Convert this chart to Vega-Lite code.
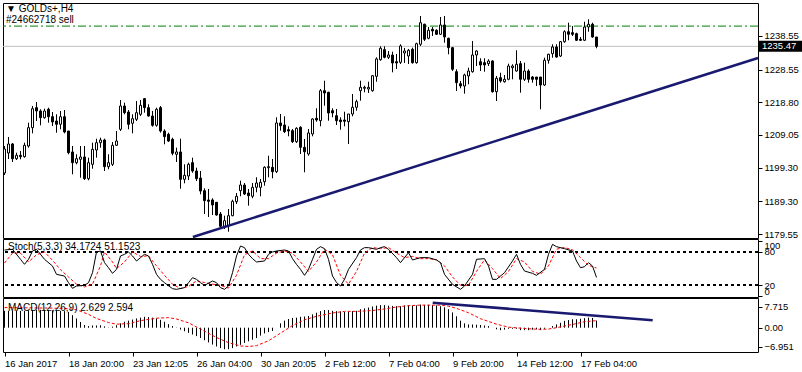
{
"$schema": "https://vega.github.io/schema/vega-lite/v6.json",
"background": "white",
"padding": {"left": 2, "top": 2, "right": 0, "bottom": 0},
"autosize": {"type": "pad"},
"bounds": "flush",
"spacing": 1,
"config": {
  "view": {"stroke": "black", "strokeWidth": 1},
  "font": "Liberation Sans",
  "scale": {"continuousPadding": 0},
  "text": {"font": "Liberation Sans", "fontSize": 10, "color": "black", "align": "left", "baseline": "middle"},
  "axis": {"labelFont": "Liberation Sans", "labelFontSize": 9.5, "labelColor": "black", "tickColor": "black", "tickSize": 4, "grid": false, "domain": false, "labelPadding": 2, "labelOverlap": false}
},
"datasets": {
  "candles": [
{"i":0,"o":1197.73,"h":1205.77,"l":1197.13,"c":1204.88},
{"i":1,"o":1203.69,"h":1208.46,"l":1201.90,"c":1206.37},
{"i":2,"o":1206.37,"h":1206.67,"l":1201.01,"c":1201.99},
{"i":3,"o":1201.99,"h":1203.78,"l":1201.60,"c":1203.00},
{"i":4,"o":1203.00,"h":1204.28,"l":1201.81,"c":1202.59},
{"i":5,"o":1202.59,"h":1206.76,"l":1202.29,"c":1205.98},
{"i":6,"o":1205.77,"h":1212.72,"l":1205.27,"c":1211.23},
{"i":7,"o":1211.23,"h":1217.69,"l":1209.56,"c":1216.89},
{"i":8,"o":1217.19,"h":1218.89,"l":1213.22,"c":1216.20},
{"i":9,"o":1216.20,"h":1216.71,"l":1211.94,"c":1214.21},
{"i":10,"o":1214.21,"h":1216.89,"l":1213.91,"c":1216.20},
{"i":11,"o":1216.71,"h":1217.19,"l":1212.72,"c":1214.50},
{"i":12,"o":1214.50,"h":1215.90,"l":1211.73,"c":1212.93},
{"i":13,"o":1213.22,"h":1215.22,"l":1209.74,"c":1212.24},
{"i":14,"o":1212.24,"h":1216.20,"l":1210.75,"c":1214.50},
{"i":15,"o":1214.50,"h":1216.50,"l":1209.56,"c":1209.95},
{"i":16,"o":1210.24,"h":1210.24,"l":1203.30,"c":1203.78},
{"i":17,"o":1203.99,"h":1205.77,"l":1197.34,"c":1200.80},
{"i":18,"o":1200.80,"h":1203.30,"l":1200.32,"c":1201.99},
{"i":19,"o":1201.81,"h":1205.77,"l":1196.33,"c":1202.50},
{"i":20,"o":1202.50,"h":1205.77,"l":1195.64,"c":1196.03},
{"i":21,"o":1196.03,"h":1202.29,"l":1195.55,"c":1200.80},
{"i":22,"o":1200.32,"h":1206.76,"l":1199.01,"c":1204.79},
{"i":23,"o":1204.58,"h":1207.95,"l":1202.29,"c":1206.76},
{"i":24,"o":1206.76,"h":1208.25,"l":1205.27,"c":1207.56},
{"i":25,"o":1207.56,"h":1207.95,"l":1198.33,"c":1199.61},
{"i":26,"o":1199.61,"h":1203.30,"l":1198.83,"c":1200.80},
{"i":27,"o":1200.32,"h":1206.97,"l":1199.81,"c":1205.98},
{"i":28,"o":1205.98,"h":1210.24,"l":1205.77,"c":1207.26},
{"i":29,"o":1210.75,"h":1219.48,"l":1210.24,"c":1217.69},
{"i":30,"o":1217.69,"h":1218.68,"l":1215.22,"c":1215.70},
{"i":31,"o":1215.90,"h":1216.50,"l":1210.75,"c":1212.24},
{"i":32,"o":1212.54,"h":1215.22,"l":1209.56,"c":1213.91},
{"i":33,"o":1213.73,"h":1219.18,"l":1213.22,"c":1215.70},
{"i":34,"o":1215.22,"h":1219.48,"l":1214.71,"c":1217.90},
{"i":35,"o":1219.87,"h":1220.08,"l":1215.70,"c":1217.19},
{"i":36,"o":1217.19,"h":1218.20,"l":1214.50,"c":1214.71},
{"i":37,"o":1214.71,"h":1216.20,"l":1211.53,"c":1211.94},
{"i":38,"o":1211.94,"h":1217.19,"l":1211.53,"c":1216.71},
{"i":39,"o":1217.19,"h":1217.69,"l":1209.74,"c":1210.24},
{"i":40,"o":1210.24,"h":1210.75,"l":1206.28,"c":1208.55},
{"i":41,"o":1209.26,"h":1209.74,"l":1206.97,"c":1207.26},
{"i":42,"o":1207.77,"h":1208.25,"l":1203.00,"c":1203.60},
{"i":43,"o":1203.30,"h":1205.27,"l":1201.01,"c":1203.99},
{"i":44,"o":1203.99,"h":1207.95,"l":1193.05,"c":1195.85},
{"i":45,"o":1195.85,"h":1200.32,"l":1194.66,"c":1197.04},
{"i":46,"o":1196.83,"h":1200.80,"l":1195.64,"c":1200.32},
{"i":47,"o":1200.80,"h":1202.29,"l":1197.82,"c":1198.33},
{"i":48,"o":1198.33,"h":1199.31,"l":1195.34,"c":1196.03},
{"i":49,"o":1196.24,"h":1198.33,"l":1191.38,"c":1192.36},
{"i":50,"o":1192.45,"h":1193.17,"l":1185.51,"c":1189.48},
{"i":51,"o":1189.69,"h":1192.96,"l":1184.62,"c":1189.30},
{"i":52,"o":1189.69,"h":1190.19,"l":1185.21,"c":1188.19},
{"i":53,"o":1189.00,"h":1189.00,"l":1185.01,"c":1185.21},
{"i":54,"o":1185.51,"h":1186.11,"l":1181.25,"c":1181.85},
{"i":55,"o":1181.85,"h":1185.01,"l":1181.04,"c":1183.52},
{"i":56,"o":1182.03,"h":1187.00,"l":1180.24,"c":1185.01},
{"i":57,"o":1185.01,"h":1189.77,"l":1184.83,"c":1189.30},
{"i":58,"o":1189.18,"h":1191.77,"l":1188.49,"c":1190.79},
{"i":59,"o":1192.45,"h":1195.44,"l":1190.79,"c":1194.15},
{"i":60,"o":1194.15,"h":1194.75,"l":1191.17,"c":1191.47},
{"i":61,"o":1191.77,"h":1192.96,"l":1187.99,"c":1190.97},
{"i":62,"o":1190.79,"h":1194.75,"l":1190.19,"c":1193.47},
{"i":63,"o":1193.47,"h":1196.45,"l":1191.98,"c":1194.75},
{"i":64,"o":1193.47,"h":1195.94,"l":1190.79,"c":1194.96},
{"i":65,"o":1195.14,"h":1199.73,"l":1193.94,"c":1199.43},
{"i":66,"o":1199.31,"h":1202.88,"l":1196.45,"c":1199.61},
{"i":67,"o":1199.43,"h":1201.90,"l":1196.15,"c":1198.12},
{"i":68,"o":1198.12,"h":1214.33,"l":1197.73,"c":1212.63},
{"i":69,"o":1212.63,"h":1215.31,"l":1210.33,"c":1211.82},
{"i":70,"o":1212.03,"h":1214.62,"l":1209.65,"c":1210.04},
{"i":71,"o":1210.63,"h":1211.64,"l":1208.66,"c":1210.24},
{"i":72,"o":1210.33,"h":1210.84,"l":1206.67,"c":1207.06},
{"i":73,"o":1207.06,"h":1211.35,"l":1206.67,"c":1211.05},
{"i":74,"o":1211.35,"h":1211.64,"l":1203.39,"c":1205.39},
{"i":75,"o":1205.39,"h":1207.86,"l":1197.94,"c":1204.07},
{"i":76,"o":1203.39,"h":1210.84,"l":1202.88,"c":1209.65},
{"i":77,"o":1209.36,"h":1214.03,"l":1208.66,"c":1213.82},
{"i":78,"o":1214.03,"h":1217.01,"l":1213.01,"c":1213.52},
{"i":79,"o":1213.31,"h":1222.76,"l":1211.64,"c":1222.25},
{"i":80,"o":1222.25,"h":1225.23,"l":1217.78,"c":1221.57},
{"i":81,"o":1221.77,"h":1221.95,"l":1213.31,"c":1215.61},
{"i":82,"o":1216.29,"h":1217.01,"l":1214.33,"c":1215.61},
{"i":83,"o":1214.80,"h":1216.80,"l":1212.03,"c":1213.31},
{"i":84,"o":1213.52,"h":1214.33,"l":1210.63,"c":1213.01},
{"i":85,"o":1213.52,"h":1215.99,"l":1211.64,"c":1213.13},
{"i":86,"o":1213.01,"h":1215.31,"l":1206.37,"c":1215.31},
{"i":87,"o":1215.31,"h":1221.27,"l":1214.62,"c":1217.31},
{"i":88,"o":1217.31,"h":1219.57,"l":1216.29,"c":1218.98},
{"i":89,"o":1222.25,"h":1225.23,"l":1219.27,"c":1223.26},
{"i":90,"o":1222.97,"h":1223.74,"l":1221.77,"c":1223.26},
{"i":91,"o":1222.76,"h":1224.93,"l":1221.57,"c":1223.26},
{"i":92,"o":1222.25,"h":1226.93,"l":1221.95,"c":1226.72},
{"i":93,"o":1226.54,"h":1232.20,"l":1224.93,"c":1231.70},
{"i":94,"o":1231.49,"h":1235.48,"l":1231.19,"c":1234.89},
{"i":95,"o":1234.47,"h":1235.48,"l":1231.91,"c":1232.20},
{"i":96,"o":1232.20,"h":1234.08,"l":1231.70,"c":1232.89},
{"i":97,"o":1232.89,"h":1233.87,"l":1227.73,"c":1230.51},
{"i":98,"o":1230.89,"h":1233.19,"l":1228.72,"c":1230.51},
{"i":99,"o":1230.71,"h":1236.08,"l":1230.21,"c":1235.57},
{"i":100,"o":1233.49,"h":1234.98,"l":1230.51,"c":1234.08},
{"i":101,"o":1232.59,"h":1234.68,"l":1230.21,"c":1234.29},
{"i":102,"o":1234.59,"h":1235.07,"l":1230.30,"c":1230.60},
{"i":103,"o":1230.60,"h":1236.55,"l":1230.30,"c":1236.26},
{"i":104,"o":1236.08,"h":1244.51,"l":1235.57,"c":1242.51},
{"i":105,"o":1242.04,"h":1242.22,"l":1237.06,"c":1237.57},
{"i":106,"o":1237.87,"h":1241.23,"l":1237.57,"c":1240.25},
{"i":107,"o":1240.55,"h":1241.23,"l":1238.55,"c":1240.04},
{"i":108,"o":1240.25,"h":1240.55,"l":1238.85,"c":1239.06},
{"i":109,"o":1239.06,"h":1244.21,"l":1238.85,"c":1241.83},
{"i":110,"o":1241.83,"h":1244.51,"l":1236.55,"c":1238.25},
{"i":111,"o":1237.87,"h":1238.04,"l":1233.10,"c":1235.07},
{"i":112,"o":1235.07,"h":1235.27,"l":1228.12,"c":1228.63},
{"i":113,"o":1227.91,"h":1228.63,"l":1222.16,"c":1224.64},
{"i":114,"o":1224.34,"h":1225.14,"l":1222.97,"c":1223.65},
{"i":115,"o":1223.65,"h":1227.32,"l":1221.36,"c":1226.93},
{"i":116,"o":1226.63,"h":1229.11,"l":1224.16,"c":1228.12},
{"i":117,"o":1227.91,"h":1237.06,"l":1227.62,"c":1232.89},
{"i":118,"o":1232.89,"h":1234.29,"l":1229.61,"c":1234.08},
{"i":119,"o":1230.89,"h":1231.91,"l":1228.12,"c":1229.91},
{"i":120,"o":1230.60,"h":1231.91,"l":1227.91,"c":1229.91},
{"i":121,"o":1230.30,"h":1231.61,"l":1229.61,"c":1231.10},
{"i":122,"o":1231.10,"h":1231.31,"l":1221.66,"c":1221.95},
{"i":123,"o":1221.95,"h":1226.63,"l":1219.18,"c":1225.95},
{"i":124,"o":1226.13,"h":1227.62,"l":1224.64,"c":1225.14},
{"i":125,"o":1224.93,"h":1226.93,"l":1224.64,"c":1225.65},
{"i":126,"o":1225.65,"h":1230.30,"l":1225.35,"c":1229.61},
{"i":127,"o":1229.11,"h":1230.12,"l":1225.65,"c":1229.61},
{"i":128,"o":1228.12,"h":1234.29,"l":1227.91,"c":1230.12},
{"i":129,"o":1230.30,"h":1231.10,"l":1221.66,"c":1225.65},
{"i":130,"o":1225.65,"h":1230.60,"l":1225.14,"c":1228.12},
{"i":131,"o":1228.12,"h":1228.63,"l":1224.64,"c":1225.65},
{"i":132,"o":1226.33,"h":1226.63,"l":1224.64,"c":1225.65},
{"i":133,"o":1226.33,"h":1226.33,"l":1223.65,"c":1225.65},
{"i":134,"o":1226.33,"h":1226.33,"l":1216.71,"c":1223.95},
{"i":135,"o":1223.95,"h":1232.09,"l":1223.65,"c":1231.31},
{"i":136,"o":1231.31,"h":1233.28,"l":1230.30,"c":1233.10},
{"i":137,"o":1233.28,"h":1236.08,"l":1232.09,"c":1235.27},
{"i":138,"o":1235.27,"h":1236.08,"l":1232.09,"c":1232.29},
{"i":139,"o":1232.59,"h":1237.06,"l":1232.29,"c":1236.85},
{"i":140,"o":1236.85,"h":1240.25,"l":1236.55,"c":1239.83},
{"i":141,"o":1239.83,"h":1242.51,"l":1237.27,"c":1239.06},
{"i":142,"o":1239.53,"h":1241.53,"l":1238.55,"c":1239.06},
{"i":143,"o":1239.24,"h":1239.53,"l":1237.06,"c":1237.27},
{"i":144,"o":1237.57,"h":1238.25,"l":1237.06,"c":1237.27},
{"i":145,"o":1237.27,"h":1242.81,"l":1237.06,"c":1241.23},
{"i":146,"o":1241.23,"h":1243.53,"l":1239.83,"c":1242.04},
{"i":147,"o":1242.04,"h":1242.51,"l":1238.04,"c":1238.25},
{"i":148,"o":1238.25,"h":1238.25,"l":1234.89,"c":1235.47}
  ],
  "levels": [{"name": "order", "p": 1241.5}, {"name": "bid", "p": 1235.47}],
  "trend": [{"i": 47.1, "p": 1178.66}, {"i": 188.375, "p": 1232.0}],
  "labels": [
    {"panel": "main", "text": "▼ GOLDs+,H4", "i": -0.375, "y": 1246.5},
    {"panel": "main", "text": "  #24662718 sell", "i": -0.375, "y": 1243.4},
    {"panel": "stoch", "text": "Stoch(5,3,3) 34.1724 51.1523", "i": -0.375, "y": 89},
    {"panel": "macd", "text": "MACD(12,26,9) 2.629 2.594", "i": -0.375, "y": 7.2}
  ],
  "stochK": [
{"i":0,"v":83.6},{"i":2,"v":84.8},{"i":4,"v":66.8},{"i":5,"v":57.8},{"i":6,"v":66.8},{"i":7,"v":81.8},{"i":8,"v":84.8},{"i":10,"v":66.8},{"i":12,"v":54.7},{"i":13,"v":39.7},{"i":15,"v":36.7},{"i":16,"v":24.7},{"i":17,"v":14.5},{"i":18,"v":18.7},{"i":20,"v":19.9},{"i":21,"v":24.7},{"i":22,"v":42.7},{"i":23,"v":80},{"i":24,"v":81.8},{"i":25,"v":60.8},{"i":26,"v":51.7},{"i":27,"v":41.5},{"i":28,"v":48.7},{"i":29,"v":72.8},{"i":30,"v":75.8},{"i":31,"v":80},{"i":32,"v":72.8},{"i":33,"v":63.8},{"i":34,"v":69.8},{"i":35,"v":75.8},{"i":36,"v":72.8},{"i":37,"v":57.8},{"i":38,"v":39.7},{"i":39,"v":30.7},{"i":40,"v":24.7},{"i":42,"v":13.9},{"i":43,"v":12.7},{"i":45,"v":15.7},{"i":46,"v":24.7},{"i":47,"v":33.7},{"i":48,"v":30.7},{"i":49,"v":24.7},{"i":50,"v":19.9},{"i":52,"v":27.7},{"i":53,"v":24.7},{"i":54,"v":15.7},{"i":55,"v":12.7},{"i":56,"v":18.7},{"i":57,"v":42.7},{"i":58,"v":72.8},{"i":59,"v":90.8},{"i":60,"v":87.8},{"i":61,"v":75.8},{"i":62,"v":68},{"i":63,"v":62},{"i":65,"v":63.8},{"i":66,"v":75.8},{"i":67,"v":80},{"i":68,"v":81.8},{"i":70,"v":83.6},{"i":71,"v":81.8},{"i":72,"v":68},{"i":73,"v":57.7},{"i":74,"v":48.7},{"i":75,"v":37.9},{"i":76,"v":48.7},{"i":77,"v":66.8},{"i":78,"v":84.8},{"i":79,"v":89.6},{"i":80,"v":86},{"i":81,"v":66.8},{"i":82,"v":36.7},{"i":83,"v":25},{"i":84,"v":18.7},{"i":85,"v":30.7},{"i":86,"v":48.7},{"i":88,"v":69.8},{"i":89,"v":83.6},{"i":90,"v":87.8},{"i":91,"v":87.8},{"i":93,"v":84.8},{"i":94,"v":87.8},{"i":95,"v":89.6},{"i":96,"v":84.8},{"i":98,"v":69.8},{"i":99,"v":60.8},{"i":101,"v":78.8},{"i":102,"v":65.6},{"i":104,"v":69.8},{"i":106,"v":69.8},{"i":108,"v":65.6},{"i":109,"v":60.8},{"i":110,"v":39.7},{"i":112,"v":21.7},{"i":114,"v":12.7},{"i":115,"v":18.7},{"i":117,"v":39.7},{"i":118,"v":66.8},{"i":120,"v":68},{"i":121,"v":54.7},{"i":122,"v":30.7},{"i":123,"v":30.7},{"i":125,"v":42.7},{"i":127,"v":63.8},{"i":128,"v":75.8},{"i":129,"v":57.7},{"i":130,"v":45.7},{"i":132,"v":41.5},{"i":133,"v":37.9},{"i":135,"v":48.7},{"i":136,"v":75.8},{"i":137,"v":93.8},{"i":138,"v":89.6},{"i":140,"v":86},{"i":142,"v":81.8},{"i":143,"v":63.8},{"i":144,"v":51.7},{"i":145,"v":53.5},{"i":146,"v":60.8},{"i":147,"v":54.7},{"i":148,"v":34.17}
  ],
  "stochD": [
{"i":0,"v":60},{"i":2,"v":78},{"i":4,"v":78},{"i":6,"v":62},{"i":8,"v":75},{"i":10,"v":80},{"i":12,"v":65},{"i":14,"v":48},{"i":16,"v":35},{"i":18,"v":22},{"i":20,"v":17},{"i":22,"v":22},{"i":24,"v":55},{"i":25,"v":80},{"i":27,"v":62},{"i":28,"v":50},{"i":30,"v":62},{"i":32,"v":80},{"i":34,"v":72},{"i":36,"v":73},{"i":38,"v":55},{"i":40,"v":38},{"i":42,"v":22},{"i":44,"v":14},{"i":46,"v":18},{"i":48,"v":28},{"i":50,"v":25},{"i":52,"v":22},{"i":54,"v":20},{"i":56,"v":15},{"i":58,"v":38},{"i":60,"v":75},{"i":62,"v":82},{"i":64,"v":68},{"i":66,"v":68},{"i":68,"v":78},{"i":70,"v":82},{"i":72,"v":78},{"i":74,"v":62},{"i":76,"v":45},{"i":78,"v":62},{"i":80,"v":85},{"i":82,"v":75},{"i":84,"v":38},{"i":86,"v":22},{"i":88,"v":45},{"i":90,"v":78},{"i":92,"v":88},{"i":94,"v":86},{"i":96,"v":88},{"i":98,"v":78},{"i":100,"v":70},{"i":102,"v":72},{"i":104,"v":68},{"i":106,"v":68},{"i":108,"v":66},{"i":110,"v":55},{"i":112,"v":35},{"i":114,"v":20},{"i":116,"v":20},{"i":118,"v":45},{"i":120,"v":66},{"i":122,"v":50},{"i":124,"v":32},{"i":126,"v":45},{"i":128,"v":68},{"i":130,"v":62},{"i":132,"v":45},{"i":134,"v":40},{"i":136,"v":55},{"i":138,"v":85},{"i":140,"v":88},{"i":142,"v":84},{"i":144,"v":70},{"i":146,"v":56},{"i":148,"v":51.15}
  ],
  "macd": [
{"i":0,"m":6.2},{"i":1,"m":6.2},{"i":2,"m":6.3},{"i":3,"m":6.3},{"i":4,"m":6.2},{"i":5,"m":6.2},{"i":6,"m":6.3},{"i":7,"m":6.5},{"i":8,"m":6.6},{"i":9,"m":6.6},{"i":10,"m":6.6},{"i":11,"m":6.5},{"i":12,"m":6.4},{"i":13,"m":6.3},{"i":14,"m":6.2},{"i":15,"m":6.1},{"i":16,"m":5.8},{"i":17,"m":4.6},{"i":18,"m":3.4},{"i":19,"m":2.1},{"i":20,"m":1.0},{"i":21,"m":0.6},{"i":22,"m":0.8},{"i":23,"m":0.8},{"i":24,"m":0.9},{"i":25,"m":0.5},{"i":26,"m":0.1},{"i":27,"m":0.4},{"i":28,"m":0.9},{"i":29,"m":1.6},{"i":30,"m":2.2},{"i":31,"m":2.6},{"i":32,"m":3.0},{"i":33,"m":3.4},{"i":34,"m":3.7},{"i":35,"m":4.0},{"i":36,"m":3.9},{"i":37,"m":3.7},{"i":38,"m":3.4},{"i":39,"m":2.9},{"i":40,"m":2.2},{"i":41,"m":1.3},{"i":42,"m":0.6},{"i":43,"m":-0.1},{"i":44,"m":-0.7},{"i":45,"m":-1.3},{"i":46,"m":-1.9},{"i":47,"m":-2.5},{"i":48,"m":-3.1},{"i":49,"m":-3.8},{"i":50,"m":-4.6},{"i":51,"m":-5.4},{"i":52,"m":-6.2},{"i":53,"m":-6.9},{"i":54,"m":-7.5},{"i":55,"m":-7.9},{"i":56,"m":-7.9},{"i":57,"m":-7.5},{"i":58,"m":-6.9},{"i":59,"m":-6.3},{"i":60,"m":-5.6},{"i":61,"m":-5.0},{"i":62,"m":-4.4},{"i":63,"m":-3.8},{"i":64,"m":-2.9},{"i":65,"m":-2.1},{"i":66,"m":-1.6},{"i":67,"m":-1.2},{"i":68,"m":0.0},{"i":69,"m":1.6},{"i":70,"m":2.6},{"i":71,"m":3.2},{"i":72,"m":3.6},{"i":73,"m":3.7},{"i":74,"m":4.0},{"i":75,"m":4.1},{"i":76,"m":4.3},{"i":77,"m":4.9},{"i":78,"m":5.5},{"i":79,"m":6.1},{"i":80,"m":6.5},{"i":81,"m":6.5},{"i":82,"m":6.2},{"i":83,"m":6.1},{"i":84,"m":6.0},{"i":85,"m":5.8},{"i":86,"m":5.8},{"i":87,"m":6.1},{"i":88,"m":6.2},{"i":89,"m":6.8},{"i":90,"m":7.1},{"i":91,"m":7.4},{"i":92,"m":7.8},{"i":93,"m":8.1},{"i":94,"m":8.3},{"i":95,"m":8.3},{"i":96,"m":8.1},{"i":97,"m":8.0},{"i":98,"m":7.9},{"i":99,"m":7.9},{"i":100,"m":8.2},{"i":101,"m":8.2},{"i":102,"m":8.1},{"i":103,"m":8.2},{"i":104,"m":8.5},{"i":105,"m":8.4},{"i":106,"m":8.4},{"i":107,"m":8.3},{"i":108,"m":8.2},{"i":109,"m":7.9},{"i":110,"m":7.5},{"i":111,"m":6.8},{"i":112,"m":5.6},{"i":113,"m":4.2},{"i":114,"m":2.6},{"i":115,"m":1.6},{"i":116,"m":1.2},{"i":117,"m":1.2},{"i":118,"m":1.1},{"i":119,"m":1.0},{"i":120,"m":0.8},{"i":121,"m":0.6},{"i":122,"m":0.0},{"i":123,"m":-0.6},{"i":124,"m":-0.9},{"i":125,"m":-0.7},{"i":126,"m":-0.4},{"i":127,"m":-0.4},{"i":128,"m":-0.4},{"i":129,"m":-0.9},{"i":130,"m":-0.9},{"i":131,"m":-0.9},{"i":132,"m":-0.7},{"i":133,"m":-0.6},{"i":134,"m":-0.9},{"i":135,"m":-0.4},{"i":136,"m":0.0},{"i":137,"m":0.6},{"i":138,"m":1.2},{"i":139,"m":1.8},{"i":140,"m":2.5},{"i":141,"m":2.8},{"i":142,"m":3.1},{"i":143,"m":3.1},{"i":144,"m":3.3},{"i":145,"m":3.5},{"i":146,"m":3.7},{"i":147,"m":3.6},{"i":148,"m":2.63}
  ],
  "signal": [
{"i":0,"s":7.4},{"i":6,"s":7.3},{"i":12,"s":7.2},{"i":16,"s":7.0},{"i":18,"s":6.6},{"i":21,"s":4.9},{"i":23,"s":3.4},{"i":26,"s":1.9},{"i":28,"s":1.3},{"i":31,"s":1.5},{"i":34,"s":2.6},{"i":38,"s":3.5},{"i":41,"s":3.7},{"i":43,"s":3.2},{"i":46,"s":1.8},{"i":49,"s":-0.5},{"i":53,"s":-3.6},{"i":56,"s":-5.5},{"i":59,"s":-6.7},{"i":61,"s":-6.9},{"i":63,"s":-6.6},{"i":66,"s":-4.8},{"i":69,"s":-2.0},{"i":72,"s":0.8},{"i":75,"s":2.9},{"i":78,"s":4.2},{"i":82,"s":5.4},{"i":85,"s":6.0},{"i":88,"s":6.0},{"i":92,"s":6.3},{"i":95,"s":6.9},{"i":98,"s":7.6},{"i":101,"s":8.1},{"i":104,"s":8.3},{"i":109,"s":8.3},{"i":111,"s":7.9},{"i":113,"s":7.1},{"i":116,"s":5.5},{"i":119,"s":3.3},{"i":123,"s":1.3},{"i":126,"s":0.2},{"i":131,"s":-0.4},{"i":134,"s":-0.6},{"i":136,"s":-0.5},{"i":138,"s":0.0},{"i":142,"s":1.2},{"i":145,"s":2.2},{"i":148,"s":2.594}
  ],
  "macdTrend": [{"i": 107.05, "m": 9.2}, {"i": 162.05, "m": 2.72}]
},
"vconcat": [
  {
    "width": 755, "height": 235,
    "layer": [
      {"data": {"name": "levels"}, "transform": [{"filter": "datum.name == 'order'"}], "mark": {"type": "rule", "color": "#008000", "strokeWidth": 1, "strokeDash": [8, 3, 2, 3]},
       "encoding": {"y": {"field": "p", "type": "quantitative", "scale": {"domain": [1178.36, 1248.38], "zero": false, "nice": false, "padding": 0}}}},
      {"data": {"name": "levels"}, "transform": [{"filter": "datum.name == 'bid'"}], "mark": {"type": "rule", "color": "#c0c0c0", "strokeWidth": 1},
       "encoding": {"y": {"field": "p", "type": "quantitative"}}},
      {"data": {"name": "candles"}, "mark": {"type": "rule", "color": "black", "strokeWidth": 1},
       "encoding": {
         "x": {"field": "i", "type": "quantitative", "scale": {"domain": [-0.375, 188.375], "nice": false, "zero": false, "padding": 0}, "axis": null},
         "y": {"field": "l", "type": "quantitative", "scale": {"domain": [1178.36, 1248.38], "zero": false, "nice": false, "padding": 0},
               "axis": {"orient": "right", "title": null, "values": [1179.55, 1189.30, 1199.30, 1209.05, 1218.80, 1228.55, 1238.55], "tickCount": 20, "format": ".2f", "labelOverlap": false, "labelBound": false}},
         "y2": {"field": "h"}}},
      {"data": {"name": "candles"}, "mark": {"type": "bar", "size": 2, "stroke": "black", "strokeWidth": 1},
       "encoding": {
         "x": {"field": "i", "type": "quantitative"},
         "y": {"field": "o", "type": "quantitative"},
         "y2": {"field": "c"},
         "fill": {"condition": {"test": "datum.c < datum.o", "value": "black"}, "value": "white"}}},
      {"data": {"name": "trend"}, "mark": {"type": "line", "color": "#191970", "strokeWidth": 2.5},
       "encoding": {"x": {"field": "i", "type": "quantitative"}, "y": {"field": "p", "type": "quantitative"}}},
      {"data": {"name": "levels"}, "transform": [{"filter": "datum.name == 'bid'"}], "mark": {"type": "bar", "orient": "horizontal", "size": 11, "color": "black", "clip": false},
       "encoding": {"x": {"datum": 188.5}, "x2": {"datum": 199.5}, "y": {"field": "p", "type": "quantitative"}}},
      {"data": {"name": "levels"}, "transform": [{"filter": "datum.name == 'bid'"}], "mark": {"type": "text", "color": "white", "align": "left", "baseline": "middle", "fontSize": 9.5, "dx": 4, "clip": false},
       "encoding": {"x": {"datum": 188.375}, "y": {"field": "p", "type": "quantitative"}, "text": {"field": "p", "type": "quantitative", "format": ".2f"}}},
      {"data": {"name": "labels"}, "transform": [{"filter": "datum.panel == 'main'"}], "mark": {"type": "text", "dx": 3},
       "encoding": {"x": {"field": "i", "type": "quantitative"}, "y": {"field": "y", "type": "quantitative"}, "text": {"field": "text"}}}
    ]
  },
  {
    "width": 755, "height": 58,
    "layer": [
      {"data": {"name": "stochK"}, "mark": {"type": "rule", "color": "black", "strokeDash": [3, 3], "strokeWidth": 1},
       "encoding": {"y": {"datum": 80, "type": "quantitative", "scale": {"domain": [-1.1, 103.4], "nice": false, "zero": false, "padding": 0},
         "axis": {"orient": "right", "title": null, "values": [0, 20, 80, 100], "tickCount": 20, "format": "d", "labelOverlap": false, "labelBound": false,
           "labelBaseline": {"condition": [{"test": "datum.value == 100", "value": "top"}, {"test": "datum.value == 0", "value": "bottom"}], "value": "middle"}}}}},
      {"data": {"name": "stochK"}, "mark": {"type": "rule", "color": "black", "strokeDash": [3, 3], "strokeWidth": 1},
       "encoding": {"y": {"datum": 20, "type": "quantitative"}}},
      {"data": {"name": "stochD"}, "mark": {"type": "line", "color": "#ff0000", "strokeWidth": 1, "strokeDash": [3, 2]},
       "encoding": {"x": {"field": "i", "type": "quantitative", "scale": {"domain": [-0.375, 188.375], "nice": false, "zero": false, "padding": 0}, "axis": null},
                    "y": {"field": "v", "type": "quantitative"}}},
      {"data": {"name": "stochK"}, "mark": {"type": "line", "color": "black", "strokeWidth": 1},
       "encoding": {"x": {"field": "i", "type": "quantitative"}, "y": {"field": "v", "type": "quantitative"}}},
      {"data": {"name": "labels"}, "transform": [{"filter": "datum.panel == 'stoch'"}], "mark": {"type": "text", "dx": 5},
       "encoding": {"x": {"field": "i", "type": "quantitative"}, "y": {"field": "y", "type": "quantitative"}, "text": {"field": "text"}}}
    ]
  },
  {
    "width": 755, "height": 54,
    "layer": [
      {"data": {"name": "macd"}, "mark": {"type": "rule", "color": "black", "strokeWidth": 1},
       "encoding": {
         "x": {"field": "i", "type": "quantitative", "scale": {"domain": [-0.375, 188.375], "nice": false, "zero": false, "padding": 0},
               "axis": {"orient": "bottom", "title": null, "values": [0, 16, 32, 48, 64, 80, 96, 112, 128, 144], "tickCount": 30,
                 "labelExpr": "['16 Jan 2017','18 Jan 20:00','23 Jan 12:05','26 Jan 04:00','30 Jan 20:05','2 Feb 12:00','7 Feb 04:00','9 Feb 20:00','14 Feb 12:00','17 Feb 04:00'][round(datum.value/16)]",
                 "labelAlign": "left", "labelOverlap": false, "labelBound": false, "labelFlush": false, "tickSize": 4, "labelPadding": 2}},
         "y": {"field": "m", "type": "quantitative", "scale": {"domain": [-8.93, 10.92], "nice": false, "zero": false, "padding": 0},
               "axis": {"orient": "right", "title": null, "values": [-6.951, 0, 7.715], "tickCount": 20, "labelOverlap": false, "labelBound": false, "labelExpr": "datum.value == 0 ? '0.00' : format(datum.value, '.3f')"}},
         "y2": {"datum": 0}}},
      {"data": {"name": "signal"}, "mark": {"type": "line", "color": "#ff0000", "strokeWidth": 1, "strokeDash": [3, 2]},
       "encoding": {"x": {"field": "i", "type": "quantitative"}, "y": {"field": "s", "type": "quantitative"}}},
      {"data": {"name": "macdTrend"}, "mark": {"type": "line", "color": "#191970", "strokeWidth": 2.5},
       "encoding": {"x": {"field": "i", "type": "quantitative"}, "y": {"field": "m", "type": "quantitative"}}},
      {"data": {"name": "labels"}, "transform": [{"filter": "datum.panel == 'macd'"}], "mark": {"type": "text", "dx": 5},
       "encoding": {"x": {"field": "i", "type": "quantitative"}, "y": {"field": "y", "type": "quantitative"}, "text": {"field": "text"}}}
    ]
  }
]
}
